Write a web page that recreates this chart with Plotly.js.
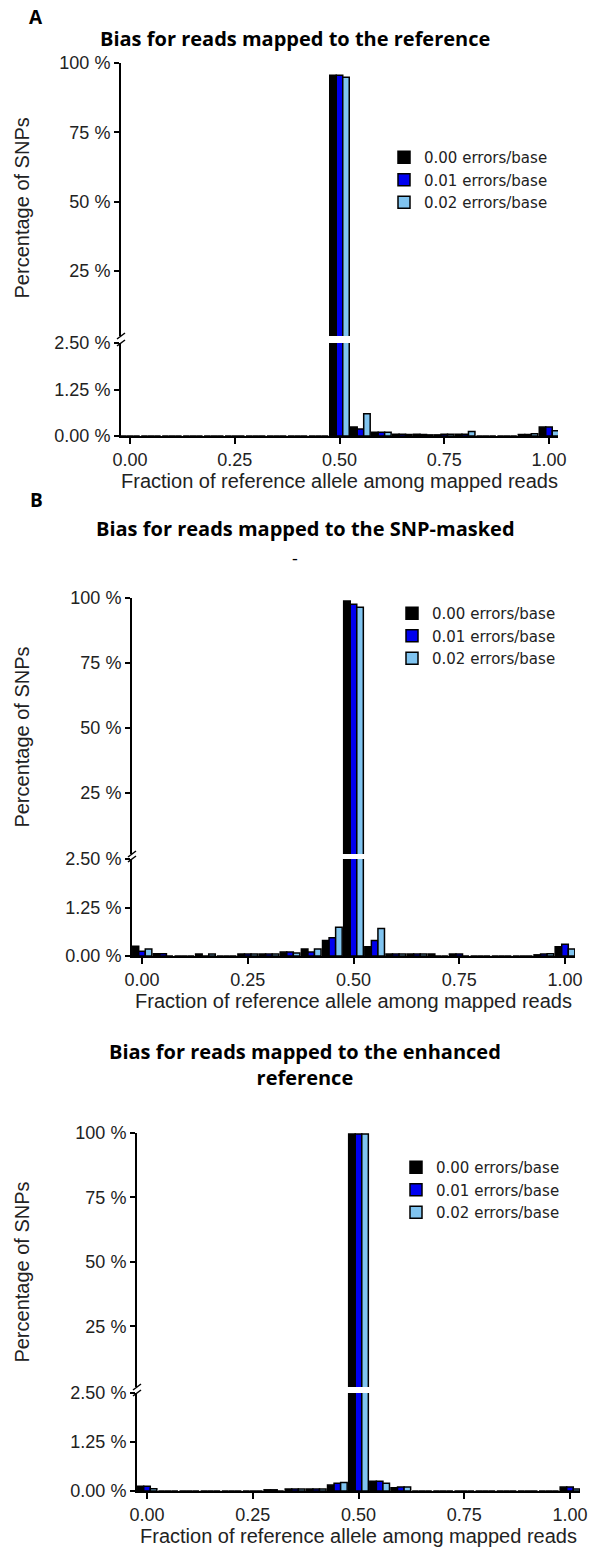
<!DOCTYPE html>
<html>
<head>
<meta charset="utf-8">
<script src="https://cdn.plot.ly/plotly-3.0.1.min.js"></script>
<style>html,body{margin:0;padding:0;background:#fff;}#chart{width:597px;height:1549px;}</style>
</head>
<body>
<div id="chart"></div>
<script>
// ---------- data ----------
const bins = [0.00,0.05,0.10,0.15,0.20,0.25,0.30,0.35,0.40,0.45,0.50,0.55,0.60,0.65,0.70,0.75,0.80,0.85,0.90,0.95,1.00];
const seriesNames = ["0.00 errors/base","0.01 errors/base","0.02 errors/base"];

const refErr000 = [0,0,0,0,0,0,0,0,0,0,95.6,0.24,0.10,0.05,0.05,0.03,0.05,0,0,0.04,0.24];
const refErr001 = [0,0,0,0,0,0,0,0,0,0,95.6,0.19,0.10,0.05,0.04,0.05,0.05,0,0,0.04,0.24];
const refErr002 = [0,0,0,0,0,0,0,0,0,0,94.9,0.60,0.10,0.04,0.03,0.05,0.12,0,0,0.06,0.14];

const maskErr000 = [0.25,0.06,0,0.05,0,0.05,0.05,0.10,0.18,0.40,98.8,0.24,0.05,0.05,0.05,0.05,0,0,0,0.03,0.24];
const maskErr001 = [0.12,0.06,0,0,0,0.05,0.05,0.10,0.10,0.47,97.6,0.40,0.05,0.05,0,0.05,0,0,0,0.05,0.30];
const maskErr002 = [0.18,0,0,0.05,0,0.05,0.05,0.08,0.18,0.74,96.4,0.71,0.05,0.05,0,0,0,0,0,0.06,0.18];

const enhErr000 = [0.12,0,0,0,0,0,0.03,0.05,0.05,0.15,99.6,0.25,0.08,0,0,0,0,0,0,0,0.10];
const enhErr001 = [0.12,0,0,0,0,0,0.03,0.05,0.05,0.20,99.6,0.25,0.10,0,0,0,0,0,0,0,0.10];
const enhErr002 = [0.06,0,0,0,0,0,0,0.05,0.05,0.22,99.6,0.20,0.10,0,0,0,0,0,0,0,0.05];

const xTickVals = [0, 0.25, 0.5, 0.75, 1];
const xTickText = ["0.00","0.25","0.50","0.75","1.00"];
const upperTickVals = [25, 50, 75, 100];
const upperTickText = ["25 %","50 %","75 %","100 %"];
const lowerTickVals = [0, 1.25, 2.5];
const lowerTickText = ["0.00 %","1.25 %","2.50 %"];

const panelTitles = ["Bias for reads mapped to the reference",
                     "Bias for reads mapped to the SNP-masked",
                     "Bias for reads mapped to the enhanced<br>reference"];

// ---------- geometry (pixels) ----------
const W = 597, H = 1549;
const colors = ["#000000", "#0000f0", "#80c4f0"];
const panels = [
  {data:[refErr000, refErr001, refErr002], top:63, upBot:336, lowTop:343, zero:436, xl:121, xr:558, x0:130, x1:549,
   title:{x:295, y:39}, label:{t:"A", x:36, y:17}, legY:180, legX:384},
  {data:[maskErr000, maskErr001, maskErr002], top:598, upBot:854, lowTop:859, zero:956, xl:132, xr:575, x0:142, x1:565,
   title:{x:305, y:528}, label:{t:"B", x:36, y:500}, legY:636, legX:392},
  {data:[enhErr000, enhErr001, enhErr002], top:1133, upBot:1387, lowTop:1393, zero:1491, xl:137, xr:580, x0:147, x1:570,
   title:{x:305, y:1064}, label:null, legY:1190, legX:396}
];
const py = p => 1 - p / H;
const px = p => p / W;

const layout = {
  width: W, height: H,
  margin: {l:0, r:0, t:0, b:0},
  paper_bgcolor: "#fff", plot_bgcolor: "rgba(0,0,0,0)",
  barmode: "group", bargap: 0.07, bargroupgap: 0,
  font: {family: "Liberation Sans, Arial, sans-serif", size: 18, color: "#222"},
  showlegend: true,
  annotations: [], shapes: []
};
const traces = [];

panels.forEach((P, i) => {
  const n = i + 1;
  const xName = n === 1 ? "xaxis" : "xaxis" + n;
  const xId = n === 1 ? "x" : "x" + n;
  const lowN = 2 * i + 1, upN = 2 * i + 2;
  const lowName = lowN === 1 ? "yaxis" : "yaxis" + lowN;
  const lowId = lowN === 1 ? "y" : "y" + lowN;
  const upName = "yaxis" + upN, upId = "y" + upN;
  const scale = (P.x1 - P.x0);
  layout[xName] = {
    domain: [px(P.xl), px(P.xr)],
    range: [(P.xl - P.x0) / scale, (P.xr - P.x0) / scale],
    anchor: lowId, showline: true, linewidth: 2, linecolor: "#000",
    ticks: "outside", ticklen: 6, tickwidth: 2, tickcolor: "#000",
    tickvals: xTickVals, ticktext: xTickText, showgrid: false, zeroline: false,
    tickfont: {size: 18, color: "#222"},
    title: {text: "Fraction of reference allele among mapped reads", font: {size: 20, color: "#222"}, standoff: 5},
    fixedrange: true
  };
  layout[lowName] = {
    domain: [py(P.zero), py(P.lowTop)], range: [0, 2.5], anchor: xId,
    showline: true, linewidth: 2, linecolor: "#000",
    ticks: "outside", ticklen: 5, tickwidth: 2, tickcolor: "#000",
    tickvals: lowerTickVals, ticktext: lowerTickText, showgrid: false, zeroline: false,
    tickfont: {size: 18, color: "#222"}, fixedrange: true
  };
  layout[upName] = {
    domain: [py(P.upBot), py(P.top)], range: [1.5, 100], anchor: xId,
    showline: true, linewidth: 2, linecolor: "#000",
    ticks: "outside", ticklen: 5, tickwidth: 2, tickcolor: "#000",
    tickvals: upperTickVals, ticktext: upperTickText, showgrid: false, zeroline: false,
    tickfont: {size: 18, color: "#222"}, fixedrange: true
  };
  const legName = n === 1 ? "legend" : "legend" + n;
  layout[legName] = {
    x: px(P.legX), xanchor: "left", y: py(P.legY), yanchor: "middle",
    bgcolor: "rgba(0,0,0,0)", font: {family: "DejaVu Sans, sans-serif", size: 15, color: "#222"},
    tracegroupgap: 0
  };
  P.data.forEach((vals, s) => {
    const common = {
      type: "bar", x: bins, y: vals, name: seriesNames[s], xaxis: xId,
      marker: {color: colors[s], line: {color: "#000", width: 1.5}},
      hoverinfo: "skip", offsetgroup: String(s)
    };
    traces.push(Object.assign({}, common, {yaxis: lowId, legend: legName, showlegend: true}));
    traces.push(Object.assign({}, common, {yaxis: upId, legend: legName, showlegend: false}));
  });
  // panel title
  layout.annotations.push({
    text: panelTitles[i], x: px(P.title.x), y: py(P.title.y), xref: "paper", yref: "paper",
    showarrow: false, xanchor: "center", yanchor: "middle",
    font: {family: "Open Sans, sans-serif", size: 20, color: "#000", weight: "bold"}
  });
  if (P.label) {
    layout.annotations.push({
      text: "<b>" + P.label.t + "</b>", x: px(P.label.x), y: py(P.label.y), xref: "paper", yref: "paper",
      showarrow: false, xanchor: "center", yanchor: "middle",
      font: {family: "Open Sans, sans-serif", size: 19, color: "#000"}
    });
  }
  // y axis title
  layout.annotations.push({
    text: "Percentage of SNPs", textangle: -90, x: px(22), y: py(P.top + 0.39 * (P.zero - P.top)),
    xref: "paper", yref: "paper", showarrow: false, xanchor: "center", yanchor: "middle",
    font: {size: 20, color: "#222"}
  });
  // axis break marks
  [P.upBot, P.lowTop].forEach(yb => {
    layout.shapes.push({type: "line", xref: "paper", yref: "paper",
      x0: px(P.xl - 4), y0: py(yb + 3), x1: px(P.xl + 4), y1: py(yb - 3),
      line: {color: "#000", width: 1.5}});
  });
});
// stray dash under panel B title
layout.annotations.push({text: "-", x: px(295), y: py(558), xref: "paper", yref: "paper",
  showarrow: false, font: {family: "Open Sans, sans-serif", size: 18, color: "#000"}});

Plotly.newPlot("chart", traces, layout, {displayModeBar: false, staticPlot: true});
</script>
</body>
</html>
